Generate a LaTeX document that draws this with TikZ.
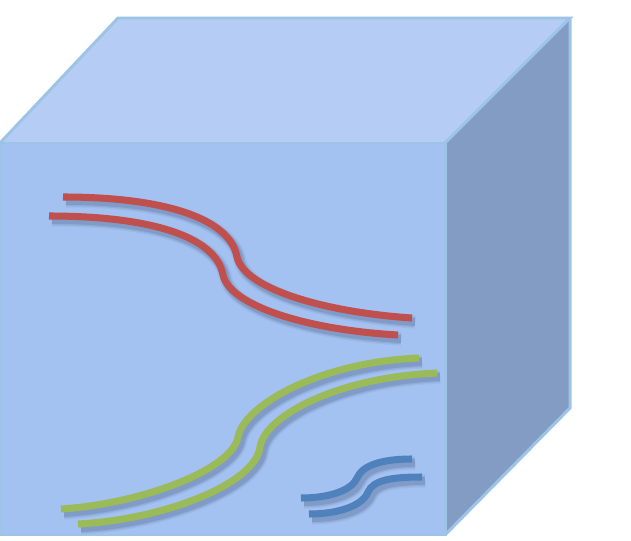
\documentclass[tikz,border=0pt]{standalone}
\usepackage{tikz}

\definecolor{edgeblue}{HTML}{9DC3E6}
\definecolor{frontblue}{HTML}{A3C2F1}
\definecolor{topblue}{HTML}{B5CDF4}
\definecolor{sideblue}{HTML}{839CC4}
\definecolor{shadowblue}{HTML}{4A5F88}
\definecolor{strandred}{HTML}{C0504D}
\definecolor{strandgreen}{HTML}{9BBB59}
\definecolor{strandblue}{HTML}{4F81BD}

% one strand with a soft shadow under it
\newcommand{\strand}[2]{%
    \foreach \w/\o in {7.5pt/0.08,6pt/0.14,4.5pt/0.22}
        \draw[strand_shadow, line width=\w, opacity=\o] #2;
    \draw[strand_line, draw=#1] #2;
}

\begin{document}
\begin{tikzpicture}[
        x=0.02cm, y=-0.02cm,
        cube_face/.style={draw=edgeblue, line width=1.7pt, line join=miter},
        strand_line/.style={line width=4pt},
        strand_shadow/.style={draw=shadowblue, shift={(3,4)}}
    ]
        \useasboundingbox (0,0) rectangle (631,540);

        \coordinate (ftl) at (0,143);
        \coordinate (ftr) at (445,143);
        \coordinate (fbr) at (445,535);
        \coordinate (fbl) at (0,535);
        \coordinate (btl) at (118,18);
        \coordinate (btr) at (570,18);
        \coordinate (bbr) at (570,408);

        \fill[frontblue] (ftl) -- (ftr) -- (fbr) -- (fbl) -- cycle;
        \fill[topblue] (ftl) -- (btl) -- (btr) -- (ftr) -- cycle;
        \fill[sideblue] (ftr) -- (btr) -- (bbr) -- (fbr) -- cycle;
        \draw[cube_face] (fbl) -- (ftl) -- (ftr) -- (fbr) -- cycle;
        \draw[cube_face] (ftl) -- (btl) -- (btr) -- (ftr);
        \draw[cube_face] (btr) -- (bbr) -- (fbr);

        % red pair
        \strand{strandred}{(63,197) .. controls (163,197) and (230,218) .. (237,257)
            .. controls (244,288) and (322,312) .. (412,318)}
        \strand{strandred}{(49,216) .. controls (149,216) and (216,236) .. (223,275)
            .. controls (230,306) and (308,330) .. (398,335)}

        % green pair
        \strand{strandgreen}{(61,509) .. controls (140,504) and (232,470) .. (238,437)
            .. controls (244,405) and (320,362) .. (419,358)}
        \strand{strandgreen}{(78,524) .. controls (160,520) and (255,485) .. (260,447)
            .. controls (265,415) and (340,377) .. (437,373)}

        % blue pair
        \strand{strandblue}{(301,498) .. controls (330,498) and (352,490) .. (357,478)
            .. controls (362,466) and (380,459) .. (412,459)}
        \strand{strandblue}{(309,514) .. controls (340,514) and (363,505) .. (368,492)
            .. controls (373,480) and (392,477) .. (422,477)}
    \end{tikzpicture}
\end{document}
